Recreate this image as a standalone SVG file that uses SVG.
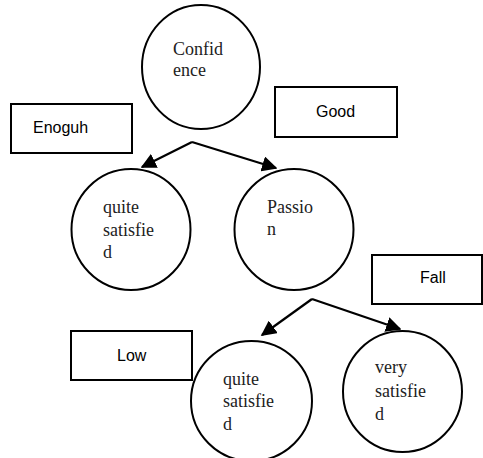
<svg xmlns="http://www.w3.org/2000/svg" width="483" height="458" viewBox="0 0 483 458">
<style>
.c{fill:#fff;stroke:#000;stroke-width:2}
.b{fill:#fff;stroke:#000;stroke-width:2}
.t{font-family:"Liberation Serif","Times New Roman",serif;font-size:18px;fill:#222}
.s{font-family:"Liberation Sans",Arial,sans-serif;font-size:16px;fill:#000}
.e{fill:none;stroke:#000;stroke-width:2.2}
</style>
<defs>
<marker id="ah" viewBox="0 0 10 10" refX="9" refY="5" markerWidth="7" markerHeight="7" markerUnits="strokeWidth" orient="auto">
<path d="M0,0 L10,5 L0,10 z" fill="#000"/>
</marker>
</defs>
<rect width="483" height="458" fill="#fff"/>
<g id="connectors">
<path class="e" d="M192,142 L142,167" marker-end="url(#ah)"/>
<path class="e" d="M192,142 L276,168" marker-end="url(#ah)"/>
<path class="e" d="M312,299 L262,335" marker-end="url(#ah)"/>
<path class="e" d="M312,299 L400,329" marker-end="url(#ah)"/>
</g>
<g id="confidence">
<ellipse class="c" cx="201" cy="67" rx="59" ry="62"/>
<text class="t" x="173" y="55">Confid</text>
<text class="t" x="173" y="76">ence</text>
</g>
<g id="enoguh">
<rect class="b" x="11" y="104" width="121" height="49"/>
<text class="s" x="33" y="133">Enoguh</text>
</g>
<g id="good">
<rect class="b" x="275" y="87" width="122" height="50"/>
<text class="s" x="316" y="117">Good</text>
</g>
<g id="quite1">
<ellipse class="c" cx="131" cy="229.5" rx="59.5" ry="60.5"/>
<text class="t" x="103" y="213">quite</text>
<text class="t" x="103" y="236">satisfie</text>
<text class="t" x="103" y="258">d</text>
</g>
<g id="passion">
<ellipse class="c" cx="294" cy="229.5" rx="59.5" ry="60.5"/>
<text class="t" x="267" y="213">Passio</text>
<text class="t" x="267" y="235">n</text>
</g>
<g id="fall">
<rect class="b" x="372" y="255" width="110" height="49"/>
<text class="s" x="420" y="283">Fall</text>
</g>
<g id="low">
<rect class="b" x="71" y="331" width="121" height="49"/>
<text class="s" x="117" y="361">Low</text>
</g>
<g id="quite2">
<ellipse class="c" cx="251.5" cy="401" rx="60.5" ry="60"/>
<text class="t" x="223" y="385">quite</text>
<text class="t" x="223" y="407">satisfie</text>
<text class="t" x="223" y="430">d</text>
</g>
<g id="very">
<ellipse class="c" cx="402.5" cy="391.5" rx="59.5" ry="60.5"/>
<text class="t" x="375" y="373">very</text>
<text class="t" x="375" y="397">satisfie</text>
<text class="t" x="375" y="420">d</text>
</g>
</svg>
